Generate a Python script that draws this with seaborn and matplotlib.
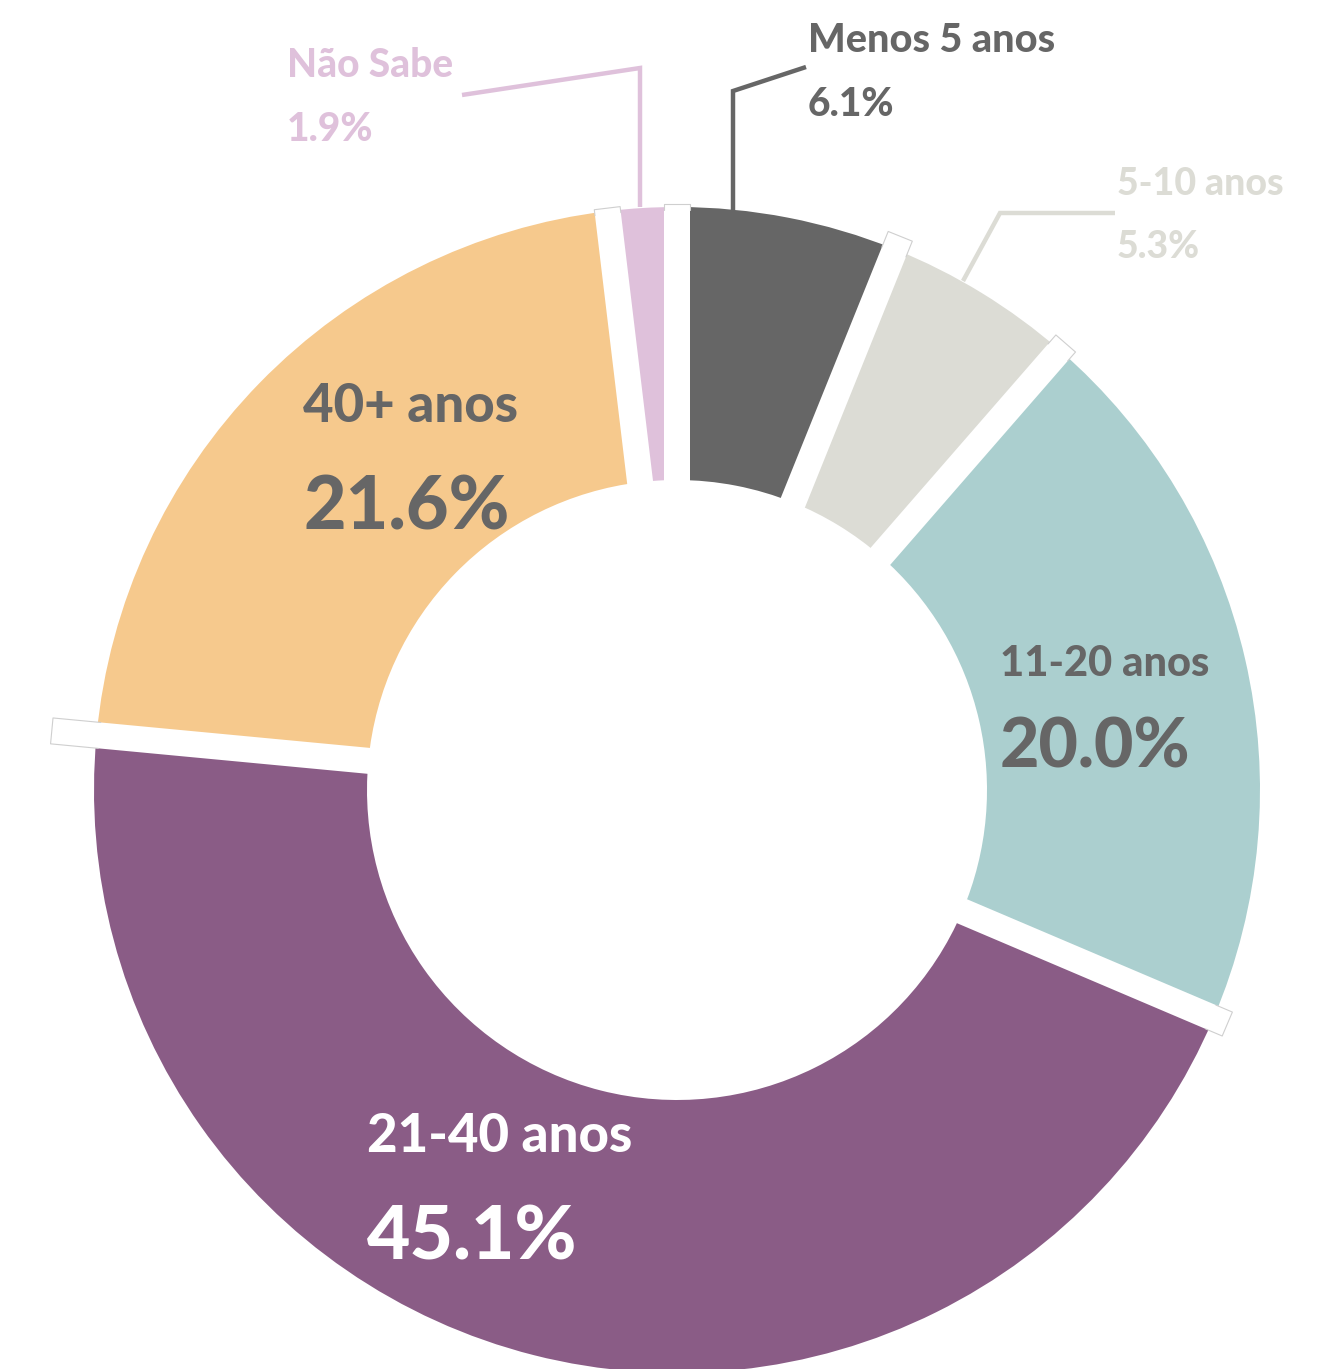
import numpy as np
import matplotlib
matplotlib.use("Agg")
import matplotlib.pyplot as plt
from matplotlib.patches import Polygon
import seaborn as sns

# Tempo de residência (distribuição das respostas)
categories = ["Menos 5 anos", "5-10 anos", "11-20 anos", "21-40 anos", "40+ anos", "Não Sabe"]
shares = [6.1, 5.3, 20.0, 45.1, 21.6, 1.9]
slice_colors = ["#666666", "#dcdcd5", "#abcfcf", "#8a5c86", "#f6c98d", "#dfc1db"]

sns.set_theme(style="white")
plt.rcParams["font.family"] = ["Lato", "DejaVu Sans"]

W, H = 1322, 1369
fig = plt.figure(figsize=(W / 100, H / 100), dpi=100)
ax = fig.add_axes([0, 0, 1, 1])


def Y(y):
    """Convert a top-down pixel row into the axis' bottom-up coordinate."""
    return H - y


CX, CY = 677, Y(790)
R_OUT, R_IN = 583, 310

ax.pie(shares, colors=slice_colors, startangle=90, counterclock=False,
       radius=R_OUT, center=(CX, CY),
       wedgeprops=dict(width=R_OUT - R_IN, linewidth=0))

# White separators between neighbouring slices, slightly protruding outside the ring
gap_width = 26
overhang = [3, 14, 9, 15, 45, 3]
bounds = np.concatenate([[0.0], np.cumsum(shares)[:-1]])
for b, ext in zip(bounds, overhang):
    th = np.deg2rad(360.0 * b / sum(shares))
    u = np.array([np.sin(th), np.cos(th)])
    n = np.array([np.cos(th), -np.sin(th)])
    c = np.array([CX, CY])
    r0, r1 = R_IN - 4, R_OUT + ext
    pts = [c + u * r0 + n * gap_width / 2, c + u * r1 + n * gap_width / 2,
           c + u * r1 - n * gap_width / 2, c + u * r0 - n * gap_width / 2]
    ax.add_patch(Polygon(pts, closed=True, facecolor="white", edgecolor="none", zorder=3))
    rb = R_OUT - 3
    outline = [c + u * rb + n * gap_width / 2, c + u * r1 + n * gap_width / 2,
               c + u * r1 - n * gap_width / 2, c + u * rb - n * gap_width / 2]
    ox, oy = zip(*outline)
    ax.plot(ox, oy, color="#cfcfcf", lw=0.8, zorder=4, solid_joinstyle="round")

# Leader lines for the small slices
leaders = [
    ([733, 733, 806], [210, 91, 67], slice_colors[0]),
    ([963, 1000, 1115], [281, 213, 213], slice_colors[1]),
    ([640, 640, 462], [207, 68, 95], slice_colors[5]),
]
for xs, ys, col in leaders:
    ax.plot(xs, [Y(v) for v in ys], color=col, lw=3.2, zorder=5,
            solid_joinstyle="miter", solid_capstyle="butt")

# Labels: (x, name baseline, value baseline, name size, value size, colour)
text_dark = "#666666"
label_style = {
    "Menos 5 anos": (808, 52, 116, 28.5, 28, slice_colors[0]),
    "5-10 anos": (1117, 195, 258, 27, 27, slice_colors[1]),
    "11-20 anos": (1000, 676, 768, 30, 49, text_dark),
    "21-40 anos": (367, 1152, 1260, 38, 54, "white"),
    "40+ anos": (303, 422, 529, 38, 53, text_dark),
    "Não Sabe": (287, 77, 141, 28, 28, slice_colors[5]),
}
for name, val in zip(categories, shares):
    x, yb1, yb2, s1, s2, col = label_style[name]
    ax.text(x, Y(yb1), name, fontsize=s1, fontweight="black", color=col,
            ha="left", va="baseline", zorder=6)
    ax.text(x, Y(yb2), f"{val:.1f}%", fontsize=s2, fontweight="black", color=col,
            ha="left", va="baseline", zorder=6)

ax.set_xlim(0, W)
ax.set_ylim(0, H)
ax.set_aspect("equal")
ax.axis("off")

fig.savefig("out.png", dpi=100, facecolor="white")
